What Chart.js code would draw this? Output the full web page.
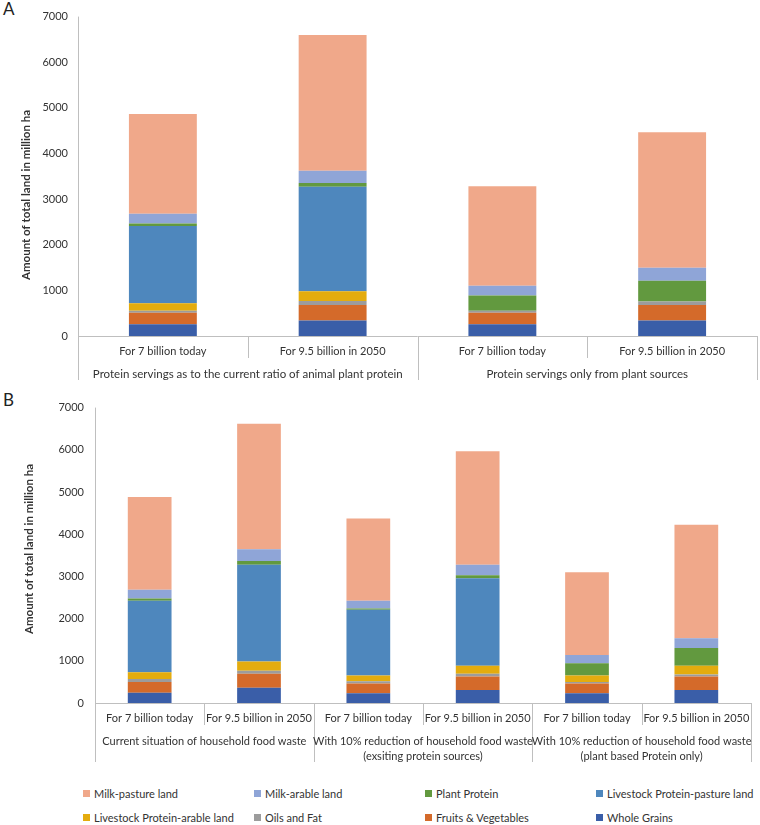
<!DOCTYPE html>
<html>
<head>
<meta charset="utf-8">
<script src="https://cdn.jsdelivr.net/npm/chart.js@4"></script>
<style>
  body { margin: 0; background: #fff; font-family: Lato, sans-serif; color: #333; }
  #page { position: relative; width: 760px; height: 825px; }
  .panel { position: absolute; left: 0; width: 760px; }
  #boxA { top: 0; height: 385px; }
  #boxB { top: 390px; height: 380px; }
  .tag { position: absolute; left: 3px; font-size: 17px; color: #222; }
  #legend { position: absolute; left: 83px; top: 786px; display: grid;
            grid-template-columns: repeat(4, 171px); row-gap: 10px; font-size: 11px; }
  .item { display: flex; align-items: center; height: 14px; white-space: nowrap; }
  .sw { width: 7px; height: 7px; margin-right: 4px; }
</style>
</head>
<body>
<div id="page">
  <div class="tag" style="top:-2px">A</div>
  <div class="tag" style="top:389px">B</div>
  <div class="panel" id="boxA"><canvas id="chartA"></canvas></div>
  <div class="panel" id="boxB"><canvas id="chartB"></canvas></div>
  <div id="legend"></div>
</div>
<script>
// series names, bottom of stack first
const seriesNames = ['Whole Grains', 'Fruits & Vegetables', 'Oils and Fat', 'Livestock Protein-arable land',
  'Livestock Protein-pasture land', 'Plant Protein', 'Milk-arable land', 'Milk-pasture land'];
const seriesColors = ['#3A5EA8', '#D46A2A', '#9C9C9C', '#E4AC0E', '#4E87BD', '#62993F', '#8FA5D7', '#F0A88A'];

// panel A
const categoriesA = ['For 7 billion today', 'For 9.5 billion in 2050', 'For 7 billion today', 'For 9.5 billion in 2050'];
const groupsA = ['Protein servings as to the current ratio of animal plant protein', 'Protein servings only from plant sources'];
const wholeGrainsA = [255, 340, 255, 340];
const fruitsVegA = [255, 341, 255, 341];
const oilsFatA = [45, 85, 45, 75];
const livestockArableA = [162, 213, 0, 0];
const livestockPastureA = [1694, 2291, 0, 0];
const plantProteinA = [57, 85, 332, 457];
const milkArableA = [213, 269, 212, 283];
const milkPastureA = [2184, 2972, 2184, 2972];

// panel B
const categoriesB = ['For 7 billion today', 'For 9.5 billion in 2050', 'For 7 billion today',
  'For 9.5 billion in 2050', 'For 7 billion today', 'For 9.5 billion in 2050'];
const groupsB = ['Current situation of household food waste',
  ['With 10% reduction of household food waste', '(exsiting protein sources)'],
  ['With 10% reduction of household food waste', '(plant based Protein only)']];
const wholeGrainsB = [244, 359, 230, 306, 230, 306];
const fruitsVegB = [253, 332, 230, 323, 230, 323];
const oilsFatB = [70, 76, 53, 62, 38, 46];
const livestockArableB = [161, 214, 139, 191, 154, 207];
const livestockPastureB = [1697, 2296, 1558, 2072, 0, 0];
const plantProteinB = [53, 85, 30, 76, 292, 422];
const milkArableB = [207, 283, 185, 247, 191, 231];
const milkPastureB = [2196, 2970, 1950, 2686, 1965, 2686];

const yTicks = [0, 1000, 2000, 3000, 4000, 5000, 6000, 7000];
const yTitle = 'Amount of total land in million ha';
const legendOrder = [7, 6, 5, 4, 3, 2, 1, 0];

Chart.defaults.font.family = 'Lato, sans-serif';
Chart.defaults.font.size = 11;
Chart.defaults.color = '#333';

// draws axis lines, the two-level category separators, group names and y title
const groupAxis = {
  id: 'groupAxis',
  afterDraw(chart, args, o) {
    const { ctx, chartArea: a } = chart;
    const n = chart.data.labels.length;
    const step = (a.right - a.left) / n;
    const px = v => Math.round(v) + 0.5;
    ctx.save();
    ctx.strokeStyle = '#BFBFBF';
    ctx.lineWidth = 1;
    ctx.beginPath();
    ctx.moveTo(a.left, px(a.bottom));
    ctx.lineTo(a.right, px(a.bottom));
    ctx.moveTo(px(a.left), a.top);
    ctx.lineTo(px(a.left), a.bottom + o.outer);
    for (let i = 1; i <= n; i++) {
      const x = Math.min(px(a.left + step * i), chart.width - 1.5);
      ctx.moveTo(x, a.bottom);
      ctx.lineTo(x, a.bottom + (i % o.size === 0 ? o.outer : o.inner));
    }
    ctx.stroke();

    ctx.fillStyle = '#333';
    ctx.font = o.groupFont + 'px Lato, sans-serif';
    ctx.textAlign = 'center';
    ctx.textBaseline = 'middle';
    o.groups.forEach((g, i) => {
      const cx = a.left + step * o.size * (i + 0.5);
      [].concat(g).forEach((line, j) => ctx.fillText(line, cx, a.bottom + o.labelY + j * 15));
    });

    ctx.translate(o.titleX, o.titleY);
    ctx.rotate(-Math.PI / 2);
    ctx.font = 'bold 11.5px Lato, sans-serif';
    ctx.fillText(yTitle, 0, 0);
    ctx.restore();
  }
};

function makeChart(id, labels, series, cfg) {
  return new Chart(document.getElementById(id), {
    type: 'bar',
    data: {
      labels: labels,
      datasets: series.map((data, i) => ({
        label: seriesNames[i],
        data: data,
        backgroundColor: seriesColors[i],
        barPercentage: 0.4,
        categoryPercentage: 1
      }))
    },
    options: {
      responsive: true,
      maintainAspectRatio: false,
      animation: false,
      layout: { padding: cfg.padding },
      plugins: {
        legend: { display: false },
        tooltip: { enabled: false },
        groupAxis: cfg.axis
      },
      scales: {
        x: {
          stacked: true,
          grid: { display: false, drawTicks: false },
          border: { display: false },
          ticks: { padding: 9, maxRotation: 0, autoSkip: false },
          afterFit: s => { s.height = cfg.xHeight; }
        },
        y: {
          stacked: true,
          min: 0,
          max: 7000,
          grid: { display: false, drawTicks: false },
          border: { display: false },
          afterBuildTicks: s => { s.ticks = yTicks.map(v => ({ value: v })); },
          ticks: { padding: cfg.tickPad, callback: v => String(v) },
          afterFit: s => { s.width = cfg.yWidth; }
        }
      }
    },
    plugins: [groupAxis]
  });
}

makeChart('chartA', categoriesA,
  [wholeGrainsA, fruitsVegA, oilsFatA, livestockArableA, livestockPastureA, plantProteinA, milkArableA, milkPastureA],
  { padding: { top: 1, right: 3, left: 0, bottom: 0 }, xHeight: 49, yWidth: 78, tickPad: 10,
    axis: { size: 2, inner: 22, outer: 44, labelY: 38, groupFont: 11.5, groups: groupsA, titleX: 26, titleY: 195 } });

makeChart('chartB', categoriesB,
  [wholeGrainsB, fruitsVegB, oilsFatB, livestockArableB, livestockPastureB, plantProteinB, milkArableB, milkPastureB],
  { padding: { top: 3, right: 9, left: 0, bottom: 0 }, xHeight: 67, yWidth: 95, tickPad: 11,
    axis: { size: 2, inner: 22, outer: 59, labelY: 38, groupFont: 11, groups: groupsB, titleX: 29, titleY: 159 } });

// shared legend
const legend = document.getElementById('legend');
legendOrder.forEach(i => {
  const item = document.createElement('div');
  item.className = 'item';
  item.innerHTML = '<span class="sw" style="background:' + seriesColors[i] + '"></span>' + seriesNames[i];
  legend.appendChild(item);
});
</script>
</body>
</html>
